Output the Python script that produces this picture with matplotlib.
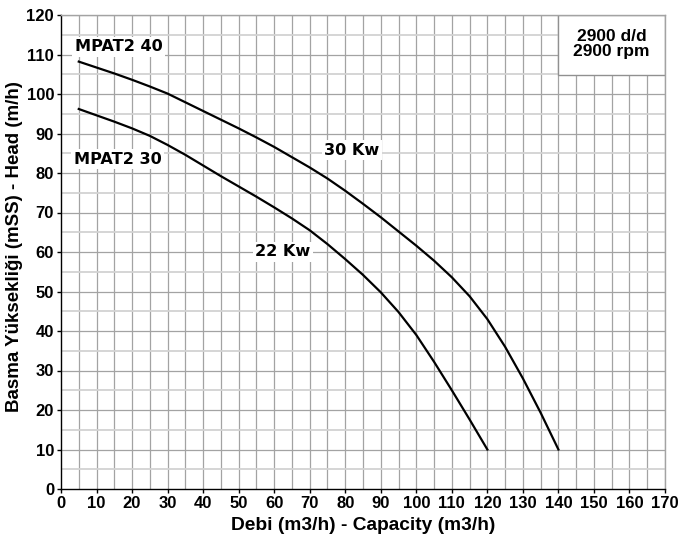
import matplotlib
matplotlib.use("Agg")
import matplotlib.pyplot as plt
from matplotlib.patches import Rectangle

# Data
q40 = [5, 10, 15, 20, 25, 30, 35, 40, 45, 50, 55, 60, 65, 70, 75, 80, 85, 90, 95,
       100, 105, 110, 115, 120, 125, 130, 135, 140]
h40 = [108.2, 106.7, 105.2, 103.6, 101.9, 100.1, 97.9, 95.7, 93.5, 91.3, 89.0, 86.6,
       84.0, 81.4, 78.6, 75.5, 72.2, 68.8, 65.2, 61.6, 57.8, 53.6, 48.8, 43.0, 36.0,
       28.0, 19.3, 10.0]
q30 = [5, 10, 15, 20, 25, 30, 35, 40, 45, 50, 55, 60, 65, 70, 75, 80, 85, 90, 95,
       100, 105, 110, 115, 120]
h30 = [96.2, 94.6, 93.0, 91.3, 89.4, 87.1, 84.6, 81.9, 79.2, 76.6, 74.0, 71.3, 68.5,
       65.5, 62.0, 58.2, 54.2, 49.8, 44.8, 39.0, 32.2, 25.0, 17.6, 10.0]

xticks = list(range(0, 171, 10))
yticks = list(range(0, 121, 10))

labels = [("MPAT2 40", 3.9, 111.9), ("MPAT2 30", 3.6, 83.5),
          ("30 Kw", 81.9, 85.8), ("22 Kw", 62.5, 60.0)]

fig = plt.figure(figsize=(6.81, 5.37), dpi=100)
ax = fig.add_axes([61/681, 48/537, 604/681, 474/537])
ax.set_xlim(0, 170)
ax.set_ylim(0, 120)

# grid
for x in range(5, 171, 5):
    ax.axvline(x, color="#a3a3a3", lw=0.9, zorder=1)
for y in range(5, 121, 5):
    if y % 10 == 0:
        ax.axhline(y, color="#a3a3a3", lw=0.9, zorder=1)
    else:
        ax.axhline(y, color="#d2d2d2", lw=1.3, zorder=1)

ax.plot(q40, h40, color="black", lw=1.6, zorder=3, solid_joinstyle="round")
ax.plot(q30, h30, color="black", lw=1.6, zorder=3, solid_joinstyle="round")

for txt, x, y in labels:
    ax.text(x, y, txt, fontsize=11.6, fontweight="bold", family="DejaVu Sans",
            ha="left" if "MPAT" in txt else "center", va="center", zorder=4,
            bbox=dict(boxstyle="square,pad=0.15", fc="white", ec="none"))

ax.add_patch(Rectangle((139.9, 104.8), 30.1, 15.2, fc="white", ec="#909090", lw=1.0, zorder=4))
ax.text(155, 112.6, "2900 d/d\n2900 rpm", ha="center", va="center", fontsize=12.5,
        fontweight="bold", family="Liberation Sans", linespacing=1.0, zorder=5)

ax.set_xticks(xticks)
ax.set_yticks(yticks)
ax.tick_params(length=3, width=1, labelsize=12, pad=2)
for lab in ax.get_xticklabels() + ax.get_yticklabels():
    lab.set_fontweight("bold")
    lab.set_family("Liberation Sans")

ax.spines["left"].set_color("black")
ax.spines["bottom"].set_color("black")
ax.spines["top"].set_color("#a3a3a3")
ax.spines["right"].set_color("#a3a3a3")
for s in ax.spines.values():
    s.set_linewidth(1.0)
    s.set_zorder(6)

ax.set_xlabel("Debi (m3/h) - Capacity (m3/h)", fontsize=13.8, fontweight="bold",
              family="Liberation Sans", labelpad=4)
ax.set_ylabel("Basma Yüksekliği (mSS) - Head (m/h)", fontsize=13.5, fontweight="bold",
              family="Liberation Sans")
ax.yaxis.set_label_coords(-0.063, 0.512)

fig.savefig("out.png", dpi=100)
